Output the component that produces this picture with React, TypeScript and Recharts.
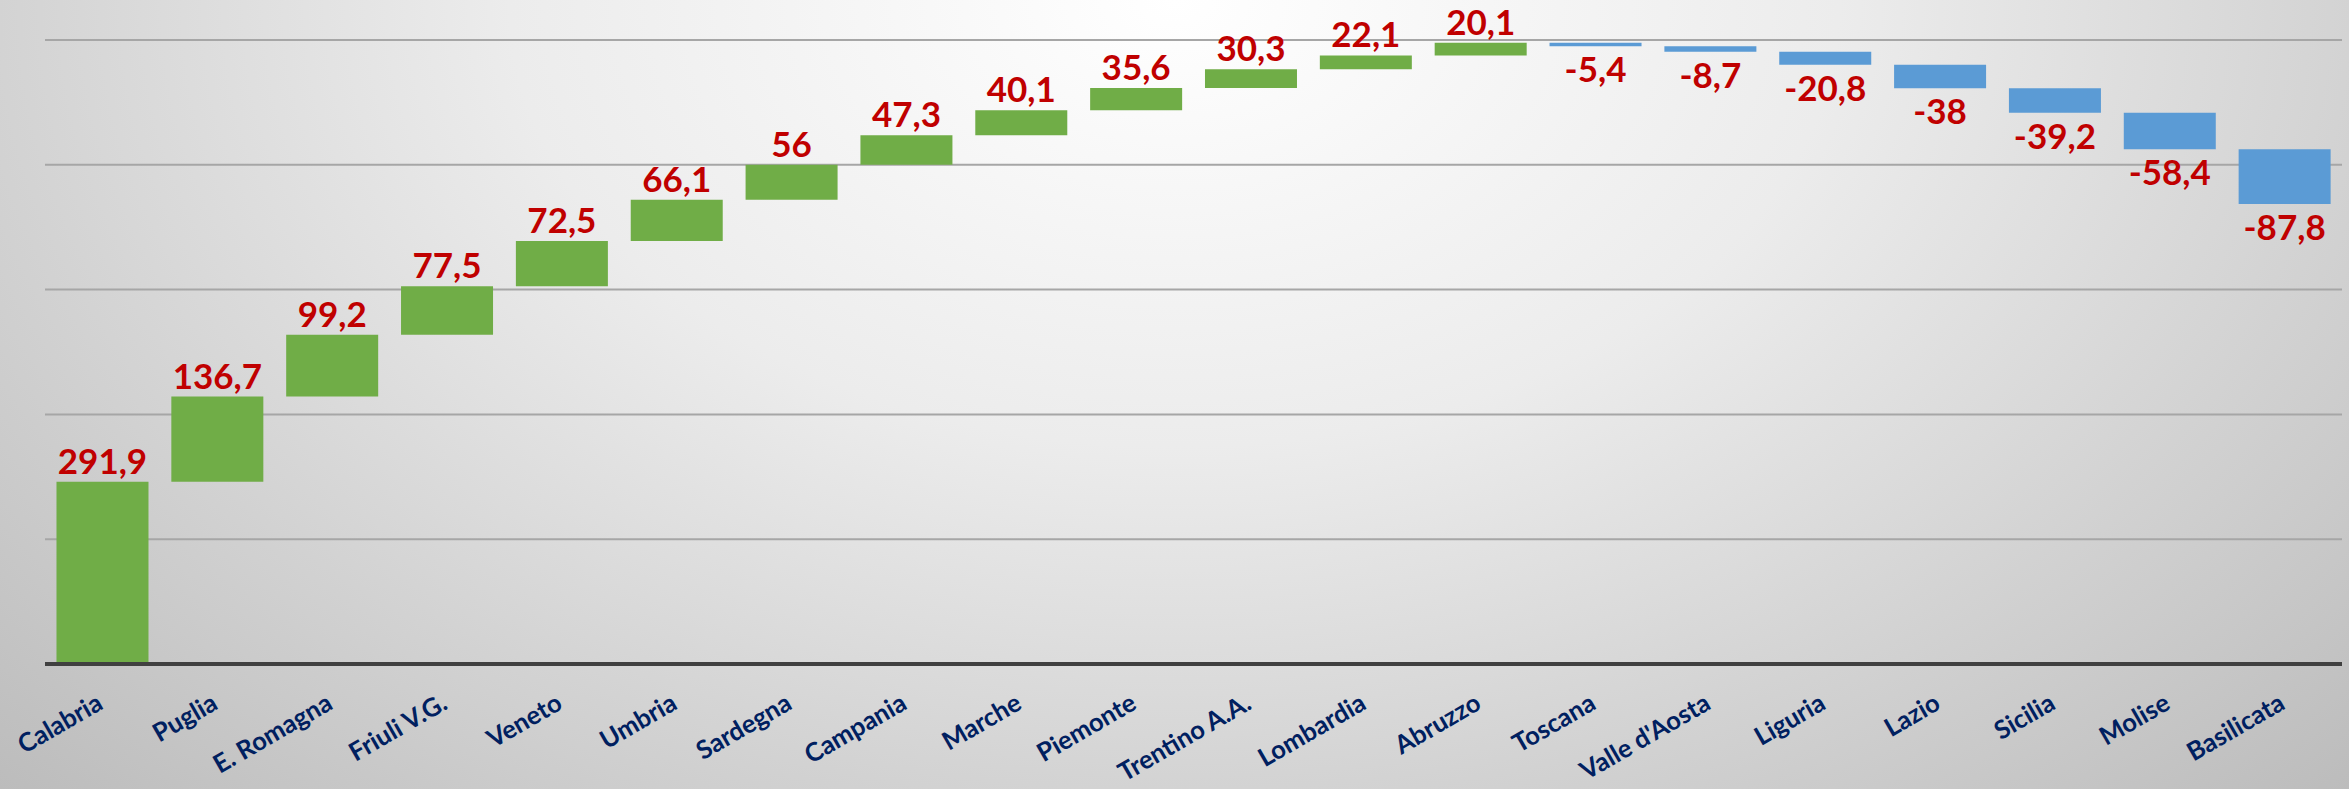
import React from "react";
import { BarChart, Bar, XAxis, YAxis, CartesianGrid, Cell, LabelList } from "recharts";

const regions = [
  "Calabria", "Puglia", "E. Romagna", "Friuli V.G.", "Veneto", "Umbria", "Sardegna",
  "Campania", "Marche", "Piemonte", "Trentino A.A.", "Lombardia", "Abruzzo", "Toscana",
  "Valle d'Aosta", "Liguria", "Lazio", "Sicilia", "Molise", "Basilicata",
];
const deltas = [
  291.9, 136.7, 99.2, 77.5, 72.5, 66.1, 56, 47.3, 40.1, 35.6, 30.3, 22.1, 20.1,
  -5.4, -8.7, -20.8, -38, -39.2, -58.4, -87.8,
];
const yTicks = [0, 200, 400, 600, 800, 1000];

const POS = "#70AD47";
const NEG = "#5B9BD5";
const LABEL = "#C00000";
const NAVY = "#002060";

const data = (() => {
  let run = 0;
  return regions.map((name, i) => {
    const d = deltas[i];
    const start = run;
    run += d;
    return { name, base: Math.min(start, run), size: Math.abs(d), value: d };
  });
})();

const fmt = (v: number) => String(v).replace(".", ",");

const ValueLabel = (props: any) => {
  const { x, y, width, height, index } = props;
  const v = deltas[index];
  const cx = x + width / 2;
  const ty = v >= 0 ? y - 8 : y + height + 36;
  return (
    <text x={cx} y={ty} textAnchor="middle" fill={LABEL}
      style={{ fontFamily: "Lato", fontWeight: 700, fontSize: 35 }}>
      {fmt(v)}
    </text>
  );
};

const Tick = (props: any) => {
  const { x, y, payload } = props;
  return (
    <g transform={`translate(${x + 2},${y + 42})`}>
      <text textAnchor="end" transform="rotate(-30)" fill={NAVY}
        style={{ fontFamily: "Lato", fontWeight: 700, fontSize: 25.5 }}>
        {payload.value}
      </text>
    </g>
  );
};

export default function App() {
  return (
    <div style={{
      position: "absolute", left: 0, top: 0, width: 2349, height: 789,
      background: "radial-gradient(ellipse farthest-corner at 50% 0%, #ffffff 0%, #ececec 40%, #d2d2d2 72%, #bcbcbc 100%)",
    }}>
      <BarChart width={2349} height={789} data={data}
        margin={{ top: 40, right: 7, left: 45, bottom: 0 }} barCategoryGap="10%">
        <CartesianGrid vertical={false} stroke="#a6a6a6" strokeWidth={2} />
        <YAxis hide domain={[0, 1000]} ticks={yTicks} />
        <XAxis dataKey="name" height={125} interval={0} tickLine={false} tickSize={0}
          axisLine={{ stroke: "#404040", strokeWidth: 4 }} tick={<Tick />} />
        <Bar dataKey="base" stackId="w" fill="transparent" isAnimationActive={false} />
        <Bar dataKey="size" stackId="w" isAnimationActive={false}>
          {data.map((d, i) => (
            <Cell key={i} fill={d.value >= 0 ? POS : NEG} />
          ))}
          <LabelList dataKey="size" content={<ValueLabel />} />
        </Bar>
      </BarChart>
    </div>
  );
}
